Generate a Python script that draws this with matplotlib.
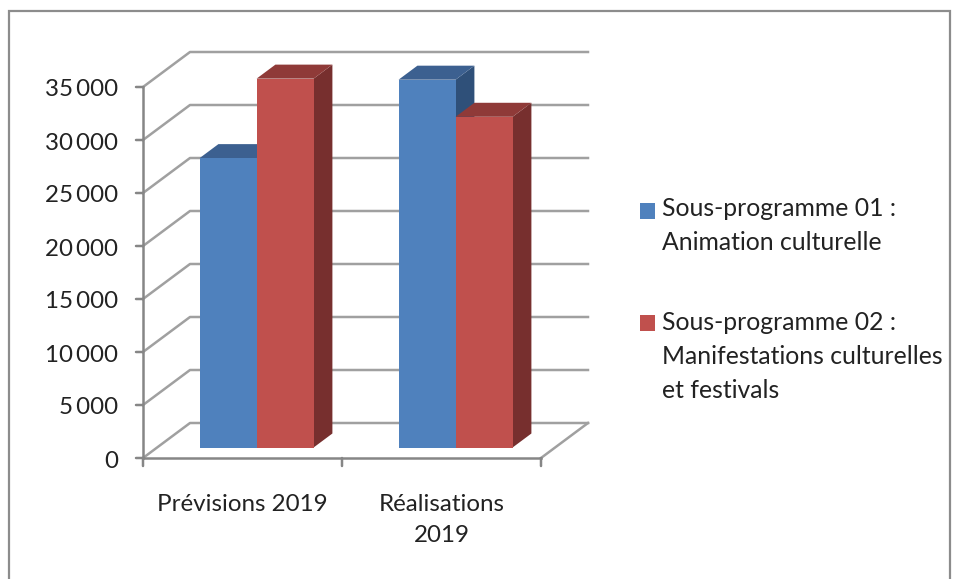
import matplotlib
matplotlib.use('Agg')
import matplotlib.pyplot as plt
from matplotlib.patches import Polygon, Rectangle

categories = ['Prévisions 2019', 'Réalisations\n2019']
series_names = ['Sous-programme 01 :\nAnimation culturelle',
                'Sous-programme 02 :\nManifestations culturelles\net festivals']
serie1 = [27300, 34700]
serie2 = [34800, 31200]
ticks = [0, 5000, 10000, 15000, 20000, 25000, 30000, 35000]
tick_labels = ['0', '5\u2009000', '10\u2009000', '15\u2009000', '20\u2009000', '25\u2009000', '30\u2009000', '35\u2009000']

W, H = 958, 579
plt.rcParams['font.family'] = ['Lato', 'DejaVu Sans']
FS = 17.4

fig = plt.figure(figsize=(W / 100, H / 100), dpi=100)
# axes = front plane of the fake 3D box
ax = fig.add_axes([143 / W, 1 - 458 / H, 398 / W, 371 / H])
ax.set_xlim(0, 2)
ax.set_ylim(0, 35000)
ax.axis('off')

# profondeur de la boite
DX = 47 / 199
DY = 35 / 371 * 35000
grid_col = '#a0a0a0'
axis_col = '#868686'
LW = 1.8


def proj(x, y, d):
    return (x + DX * d, y + DY * d)


def draw_bar(x0, width, value, front, side, top):
    d0, d1 = 0.3, 0.7
    p = [proj(x0, 0, d0), proj(x0 + width, 0, d0), proj(x0 + width, value, d0), proj(x0, value, d0)]
    s = [proj(x0 + width, 0, d0), proj(x0 + width, 0, d1), proj(x0 + width, value, d1), proj(x0 + width, value, d0)]
    t = [proj(x0, value, d0), proj(x0 + width, value, d0), proj(x0 + width, value, d1), proj(x0, value, d1)]
    ax.add_patch(Polygon(s, closed=True, fc=side, ec='none', clip_on=False, zorder=3))
    ax.add_patch(Polygon(t, closed=True, fc=top, ec='none', clip_on=False, zorder=3))
    ax.add_patch(Polygon(p, closed=True, fc=front, ec='none', clip_on=False, zorder=3))


# murs: grille
for t in ticks:
    ax.plot([proj(0, t, 0)[0], proj(0, t, 1)[0], proj(2, t, 1)[0]],
            [proj(0, t, 0)[1], proj(0, t, 1)[1], proj(2, t, 1)[1]],
            color=grid_col, lw=LW, clip_on=False, zorder=1)
ax.plot([proj(2, 0, 0)[0], proj(2, 0, 1)[0]], [proj(2, 0, 0)[1], proj(2, 0, 1)[1]],
        color=grid_col, lw=LW, clip_on=False, zorder=1)

# axes
ax.plot([0, 0], [0, 35000], color=axis_col, lw=LW, clip_on=False, zorder=2)
ax.plot([0, 2], [0, 0], color=axis_col, lw=LW, clip_on=False, zorder=2)
for t, lab in zip(ticks, tick_labels):
    ax.annotate('', xy=(0, t), xytext=(-7, 0), textcoords='offset pixels',
                arrowprops=dict(arrowstyle='-', color=axis_col, lw=LW, shrinkA=0, shrinkB=0))
    ax.annotate(lab, xy=(0, t), xytext=(-25, -3), textcoords='offset pixels',
                ha='right', va='center', fontsize=FS, color='#222222')
for i in range(3):
    ax.annotate('', xy=(i, 0), xytext=(0, -8), textcoords='offset pixels',
                arrowprops=dict(arrowstyle='-', color=axis_col, lw=LW, shrinkA=0, shrinkB=0))
for i, cat in enumerate(categories):
    ax.annotate(cat, xy=(i + 0.5, 0), xytext=(0, -36), textcoords='offset pixels',
                ha='center', va='top', fontsize=FS, color='#222222', linespacing=1.6)

# barres
bw = 57 / 199
for i in range(2):
    x0 = i + 0.5 - bw
    draw_bar(x0, bw, serie1[i], '#4f81bd', '#2f5079', '#3c6090')
    draw_bar(x0 + bw, bw, serie2[i], '#c0504d', '#772f2e', '#8f3a38')

# legende
fig.add_artist(Rectangle((640 / W, 1 - 219 / H), 15 / W, 16 / H, transform=fig.transFigure, fc='#4f81bd', ec='none'))
fig.add_artist(Rectangle((640 / W, 1 - 331 / H), 15 / W, 16 / H, transform=fig.transFigure, fc='#c0504d', ec='none'))
fig.text(662 / W, 1 - 197 / H, series_names[0], ha='left', va='top', fontsize=17.8, color='#222222', linespacing=1.6)
fig.text(662 / W, 1 - 311 / H, series_names[1], ha='left', va='top', fontsize=17.8, color='#222222', linespacing=1.57)

# cadre
fig.add_artist(Rectangle((9 / W, -5 / H), 941 / W, (H - 11 + 5) / H, transform=fig.transFigure,
                         fc='none', ec='#8c8c8c', lw=1.6))

fig.savefig('out.png', dpi=100)
